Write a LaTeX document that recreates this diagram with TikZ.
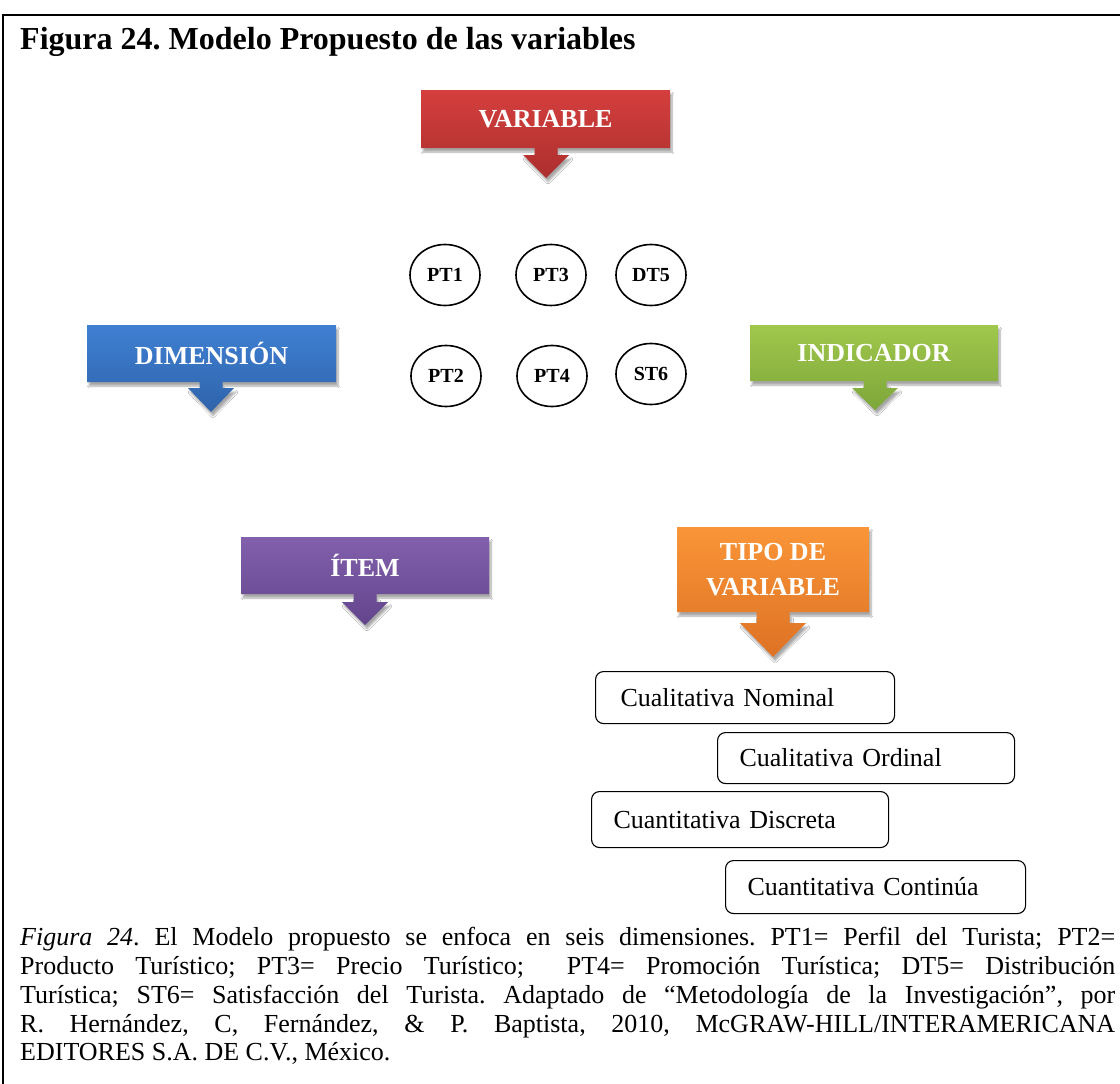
\documentclass[tikz,border=0pt]{standalone}
\usepackage{fontspec}
\setmainfont{Liberation Serif}
\usetikzlibrary{shapes.geometric,shadows.blur}
\frenchspacing

\definecolor{redtop}{HTML}{D43F3D}
\definecolor{redbot}{HTML}{AC2F2E}
\definecolor{bluetop}{HTML}{3F80D2}
\definecolor{bluebot}{HTML}{2F63AB}
\definecolor{greentop}{HTML}{A0C84C}
\definecolor{greenbot}{HTML}{7DA63A}
\definecolor{purpletop}{HTML}{8260AC}
\definecolor{purplebot}{HTML}{63458C}
\definecolor{orangetop}{HTML}{FA9538}
\definecolor{orangebot}{HTML}{DD7224}

% box with a downward arrow: style, left, top, right, bottom, arrow x, stem half width, head top, tip y
\newcommand\calloutshape[9]{%
  \path[#1, blur shadow={shadow xshift=2pt, shadow yshift=-4pt, shadow blur steps=8, shadow opacity=35}]
    (#2,#3) -- (#4,#3) -- (#4,#5) -- ({#6+#7},#5) -- ({#6+#7},#8) -- ({#6+2*#7},#8)
    -- (#6,#9) -- ({#6-2*#7},#8) -- ({#6-#7},#8) -- ({#6-#7},#5) -- (#2,#5) -- cycle;}

\tikzset{
  redfill/.style={top color=redtop, bottom color=redbot},
  bluefill/.style={top color=bluetop, bottom color=bluebot},
  greenfill/.style={top color=greentop, bottom color=greenbot},
  purplefill/.style={top color=purpletop, bottom color=purplebot},
  orangefill/.style={top color=orangetop, bottom color=orangebot},
  boxtext/.style={text=white, font=\fontsize{26}{35}\selectfont\bfseries, align=center, inner sep=0pt},
  tag/.style={draw, ellipse, line width=1.6pt, minimum width=70pt, minimum height=61pt,
    inner sep=0pt, font=\fontsize{20}{24}\selectfont\bfseries},
  optbox/.style={draw, rounded corners=8pt, line width=1.1pt, anchor=north west, align=left,
    font=\fontsize{26}{30}\selectfont, inner xsep=22pt, inner ysep=0pt},
  capline/.style={anchor=base west, inner sep=0pt, font=\fontsize{26}{29}\selectfont},
}

\begin{document}
\begin{tikzpicture}[x=1pt, y=-1pt]
  \useasboundingbox[fill=white] (0,0) rectangle (1120,1084);

  % frame
  \draw[line width=2.5pt] (3,1084) -- (3,15) -- (1120,15);

  % title
  \node[anchor=base west, inner sep=0pt, font=\fontsize{32}{36}\selectfont\bfseries] (title) at (20,49)
    {Figura 24. Modelo Propuesto de las variables};

  % coloured boxes with arrows
  \calloutshape{redfill}{421}{90}{670}{148}{546}{11.5}{155}{178}
  \node[boxtext] (variable) at (545.5,119) {VARIABLE};

  \calloutshape{bluefill}{87}{325}{336}{382}{211}{11.5}{388}{412}
  \node[boxtext] (dimension) at (211.5,353.5) {DIMENSIÓN};

  \calloutshape{greenfill}{750}{325}{998}{381}{875}{11.5}{388}{410}
  \node[boxtext] (indicador) at (874,353) {INDICADOR};

  \calloutshape{purplefill}{241}{537}{489}{594}{365}{11.5}{602}{625}
  \node[boxtext] (item) at (365,565.5) {ÍTEM};

  \calloutshape{orangefill}{677}{527}{869}{612}{773}{16.5}{623}{657}
  \node[boxtext] (tipo) at (773,569.5) {TIPO DE\\VARIABLE};

  % dimension tags
  \node[tag] (pt1) at (445,275) {PT1};
  \node[tag] (pt3) at (551,275) {PT3};
  \node[tag] (dt5) at (651,275) {DT5};
  \node[tag] (pt2) at (446,376) {PT2};
  \node[tag] (pt4) at (552,376) {PT4};
  \node[tag] (st6) at (651,374) {ST6};

  % variable types
  \node[optbox, inner xsep=25pt, text width=249pt, minimum height=52pt] (nominal) at (595,671) {Cualitativa Nominal};
  \node[optbox, text width=253pt, minimum height=51pt] (ordinal) at (717,732) {Cualitativa Ordinal};
  \node[optbox, text width=253pt, minimum height=56pt] (discreta) at (591,791) {Cuantitativa Discreta};
  \node[optbox, text width=256pt, minimum height=53pt] (continua) at (725,860) {Cuantitativa Continúa};

  % caption
  \node[capline] (cap1) at (20,945) {\makebox[1095pt][s]{\textit{Figura 24}. El Modelo propuesto se enfoca en seis dimensiones. PT1= Perfil del Turista; PT2=}};
  \node[capline] (cap2) at (20,974) {\makebox[1095pt][s]{Producto Turístico; PT3= Precio Turístico; \ PT4= Promoción Turística; DT5= Distribución}};
  \node[capline] (cap3) at (20,1003) {\makebox[1095pt][s]{Turística; ST6= Satisfacción del Turista. Adaptado de “Metodología de la Investigación”, por}};
  \node[capline] (cap4) at (20,1032) {\makebox[1095pt][s]{R. Hernández, C, Fernández, \& P. Baptista, 2010, McGRAW-HILL/INTERAMERICANA}};
  \node[capline] (cap5) at (20,1060) {EDITORES S.A. DE C.V., México.};
\end{tikzpicture}
\end{document}
